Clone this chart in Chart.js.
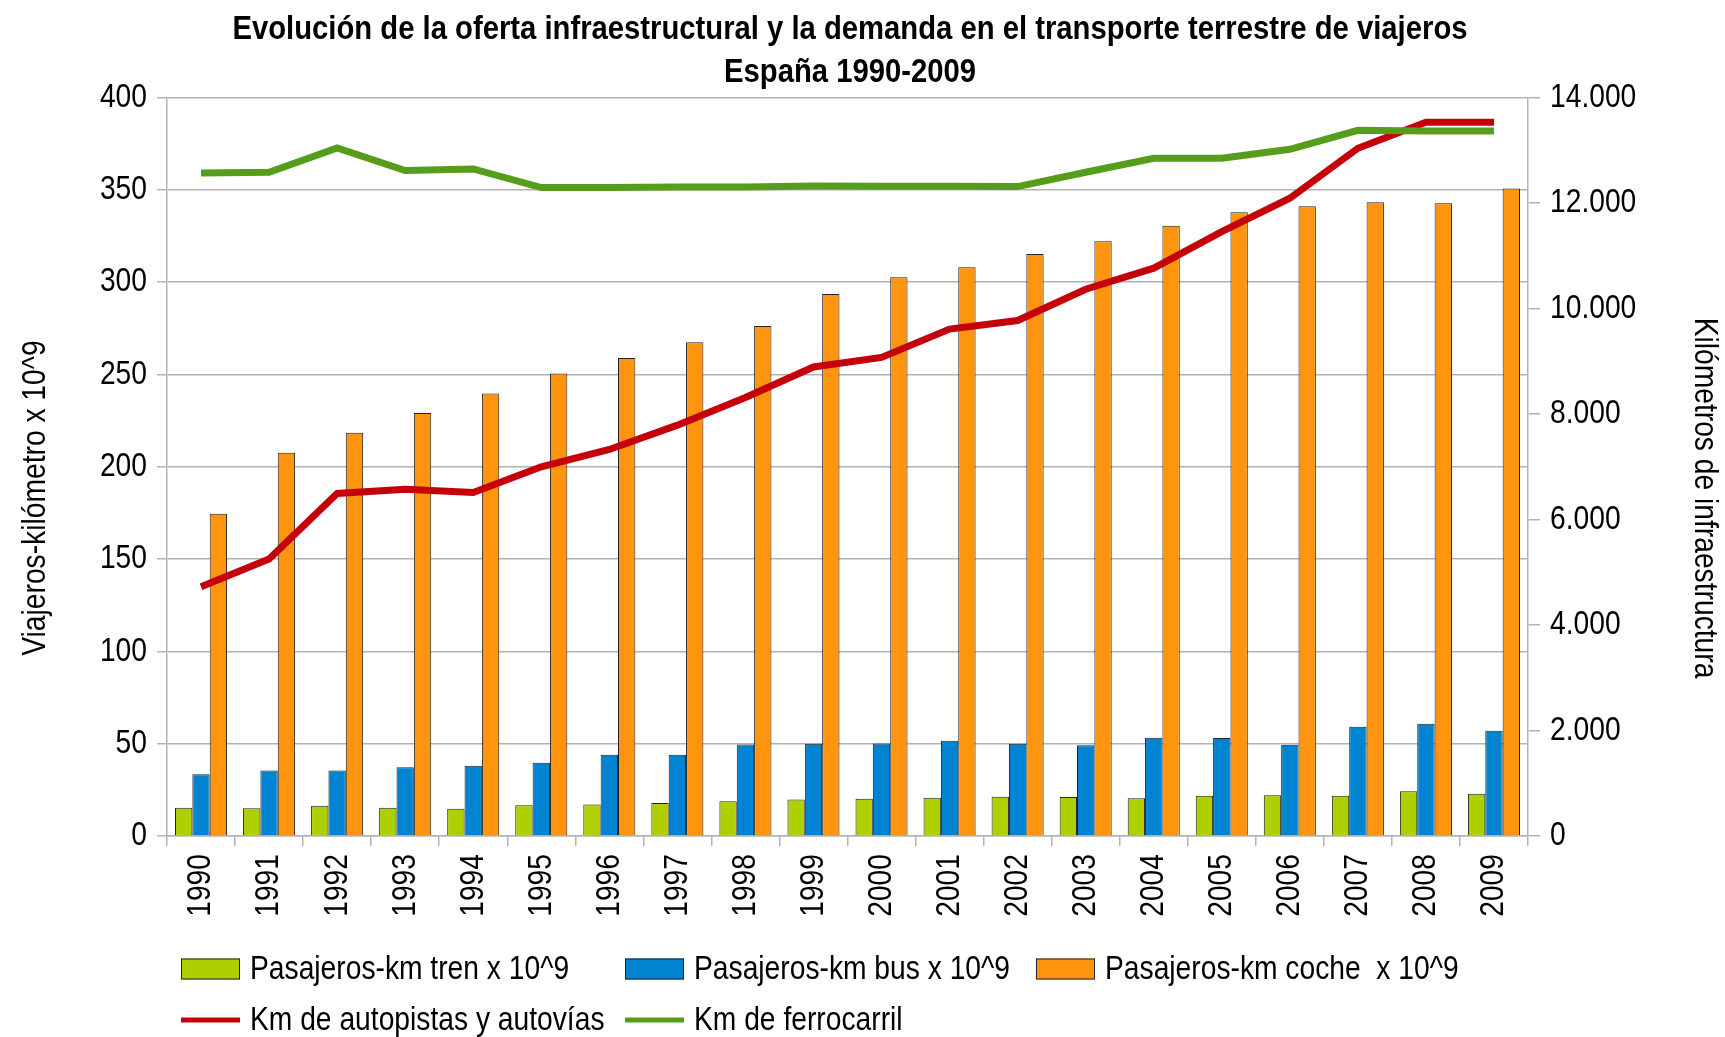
<!DOCTYPE html>
<html>
<head>
<meta charset="utf-8">
<script src="https://cdn.jsdelivr.net/npm/chart.js@4/dist/chart.umd.min.js"></script>
<style>
html,body{margin:0;padding:0;background:#ffffff;}
#c{display:block;}
</style>
</head>
<body>
<canvas id="c" width="1725" height="1037"></canvas>
<script>
// ---- Data ----
const years = ['1990','1991','1992','1993','1994','1995','1996','1997','1998','1999',
               '2000','2001','2002','2003','2004','2005','2006','2007','2008','2009'];
const trenPkm = [15.3, 15.0, 16.4, 15.3, 14.8, 16.6, 17.0, 17.9, 18.8, 19.7,
                 20.2, 20.7, 21.3, 21.1, 20.4, 21.8, 22.0, 21.8, 24.2, 22.9];
const busPkm = [33.4, 35.5, 35.5, 37.2, 38.1, 39.7, 44.0, 44.0, 49.6, 50.0,
                50.1, 51.6, 50.0, 49.2, 53.2, 53.0, 49.4, 59.2, 60.8, 57.0];
const cochePkm = [174.5, 207.5, 218.3, 229.0, 239.6, 250.4, 258.9, 267.4, 276.2, 293.5,
                  302.6, 308.0, 315.2, 322.1, 330.4, 337.8, 341.0, 343.2, 342.6, 350.6];
const kmAutopistas = [4725, 5250, 6493, 6573, 6510, 6997, 7325, 7787, 8310, 8890,
                      9070, 9607, 9770, 10363, 10762, 11456, 12087, 13034, 13527, 13527];
const kmFerrocarril = [12567, 12580, 13040, 12611, 12643, 12290, 12290, 12300, 12300, 12320,
                       12314, 12314, 12308, 12580, 12845, 12845, 13015, 13375, 13360, 13360];
const seriesNames = ['Pasajeros-km tren x 10^9', 'Pasajeros-km bus x 10^9', 'Pasajeros-km coche  x 10^9',
                     'Km de autopistas y autovías', 'Km de ferrocarril'];
const titleLines = ['Evolución de la oferta infraestructural y la demanda en el transporte terrestre de viajeros',
                    'España 1990-2009'];
const leftAxisTitle = 'Viajeros-kilómetro x 10^9';
const rightAxisTitle = 'Kilómetros de infraestructura';

// ---- Narrow text rendering (no condensed font installed: compress Liberation Sans horizontally) ----
(function () {
  const proto = CanvasRenderingContext2D.prototype;
  const origFill = proto.fillText;
  const origMeasure = proto.measureText;
  function sx(ctx) { return /bold/.test(ctx.font) ? 0.86 : 0.83; }
  proto.fillText = function (text, x, y, maxWidth) {
    const s = sx(this);
    this.save();
    this.translate(x, y);
    this.scale(s, 1);
    if (maxWidth !== undefined) origFill.call(this, text, 0, 0, maxWidth / s);
    else origFill.call(this, text, 0, 0);
    this.restore();
  };
  proto.measureText = function (text) {
    const m = origMeasure.call(this, text);
    const s = sx(this);
    return {
      width: m.width * s,
      actualBoundingBoxLeft: m.actualBoundingBoxLeft * s,
      actualBoundingBoxRight: m.actualBoundingBoxRight * s,
      actualBoundingBoxAscent: m.actualBoundingBoxAscent,
      actualBoundingBoxDescent: m.actualBoundingBoxDescent,
      fontBoundingBoxAscent: m.fontBoundingBoxAscent,
      fontBoundingBoxDescent: m.fontBoundingBoxDescent
    };
  };
})();

// ---- Styling ----
const FONT = '"Liberation Sans", Arial, sans-serif';
const GRID = '#b3b3b3';
Chart.defaults.font.family = FONT;
Chart.defaults.font.size = 34;
Chart.defaults.color = '#000000';

function thousands(v) {
  return String(v).replace(/\B(?=(\d{3})+(?!\d))/g, '.');
}
// axis titles sit ~30px below the plot's vertical centre in the reference
const SHIFT = '        ';

const legendPlugin = {
  id: 'gridLegend',
  afterDraw(chart) {
    const ctx = chart.ctx;
    const cols = [181, 625, 1036];
    const rows = [969, 1020];
    const boxW = 59, boxH = 21;
    ctx.save();
    ctx.font = '34px ' + FONT;
    ctx.textBaseline = 'middle';
    ctx.textAlign = 'left';
    chart.data.datasets.forEach((ds, i) => {
      const col = i < 3 ? i : i - 3;
      const row = i < 3 ? 0 : 1;
      const x = cols[col], y = rows[row];
      if (ds.type === 'line') {
        ctx.strokeStyle = ds.borderColor;
        ctx.lineWidth = 5;
        ctx.beginPath();
        ctx.moveTo(x, y);
        ctx.lineTo(x + boxW, y);
        ctx.stroke();
      } else {
        ctx.fillStyle = ds.backgroundColor;
        ctx.fillRect(x, y - boxH / 2, boxW, boxH);
        ctx.strokeStyle = '#222222';
        ctx.lineWidth = 1;
        ctx.strokeRect(x + 0.5, y - boxH / 2 + 0.5, boxW - 1, boxH - 1);
      }
      ctx.fillStyle = '#000000';
      ctx.fillText(ds.label, x + boxW + 10, y + 1);
    });
    ctx.restore();
  }
};

const barCommon = {
  type: 'bar',
  yAxisID: 'y',
  borderColor: '#222222',
  borderWidth: 1,
  categoryPercentage: 0.765,
  barPercentage: 1.0,
  order: 3
};

new Chart(document.getElementById('c'), {
  data: {
    labels: years,
    datasets: [
      Object.assign({}, barCommon, { label: seriesNames[0], data: trenPkm, backgroundColor: '#aecf00' }),
      Object.assign({}, barCommon, { label: seriesNames[1], data: busPkm, backgroundColor: '#0084d1' }),
      Object.assign({}, barCommon, { label: seriesNames[2], data: cochePkm, backgroundColor: '#ff950e' }),
      { type: 'line', label: seriesNames[3], data: kmAutopistas, yAxisID: 'y2',
        borderColor: '#c5000b', backgroundColor: '#c5000b', borderWidth: 7,
        pointRadius: 0, pointHoverRadius: 0, tension: 0, fill: false, order: 2 },
      { type: 'line', label: seriesNames[4], data: kmFerrocarril, yAxisID: 'y2',
        borderColor: '#579d1c', backgroundColor: '#579d1c', borderWidth: 7,
        pointRadius: 0, pointHoverRadius: 0, tension: 0, fill: false, order: 1 }
    ]
  },
  options: {
    responsive: false,
    animation: false,
    devicePixelRatio: 1,
    layout: { padding: { left: 0, right: 25, top: 0, bottom: 110 } },
    plugins: {
      legend: { display: false },
      tooltip: { enabled: false },
      title: {
        display: true,
        text: titleLines,
        color: '#000000',
        font: { family: FONT, size: 34, weight: 'bold', lineHeight: 1.24 },
        padding: { top: 9, bottom: 4 }
      }
    },
    scales: {
      x: {
        type: 'category',
        offset: true,
        grid: { display: true, drawOnChartArea: false, offset: true, color: GRID, lineWidth: 1.5, tickLength: 10 },
        border: { display: true, color: GRID, width: 1.5 },
        ticks: { autoSkip: false, minRotation: 90, maxRotation: 90, padding: 8, font: { size: 34 }, color: '#000' },
        afterFit(scale) { scale.height = 91; }
      },
      y: {
        type: 'linear',
        position: 'left',
        min: 0, max: 400,
        ticks: { stepSize: 50, padding: 10, font: { size: 34 }, color: '#000' },
        grid: { color: GRID, lineWidth: 1.5, tickLength: 10 },
        border: { display: true, color: GRID, width: 1.5 },
        title: { display: true, text: leftAxisTitle + SHIFT, font: { size: 34 }, color: '#000', padding: { top: 15, bottom: 0 } },
        afterFit(scale) { scale.width = 167; }
      },
      y2: {
        type: 'linear',
        position: 'right',
        min: 0, max: 14000,
        ticks: { stepSize: 2000, padding: 10, font: { size: 34 }, color: '#000', callback: (v) => thousands(v) },
        grid: { drawOnChartArea: false, color: GRID, lineWidth: 1.5, tickLength: 12 },
        border: { display: true, color: GRID, width: 1.5 },
        title: { display: true, text: SHIFT + rightAxisTitle, font: { size: 34 }, color: '#000', padding: { top: -25, bottom: 0 } },
        afterFit(scale) { scale.width = 172; }
      }
    }
  },
  plugins: [legendPlugin]
});
</script>
</body>
</html>
